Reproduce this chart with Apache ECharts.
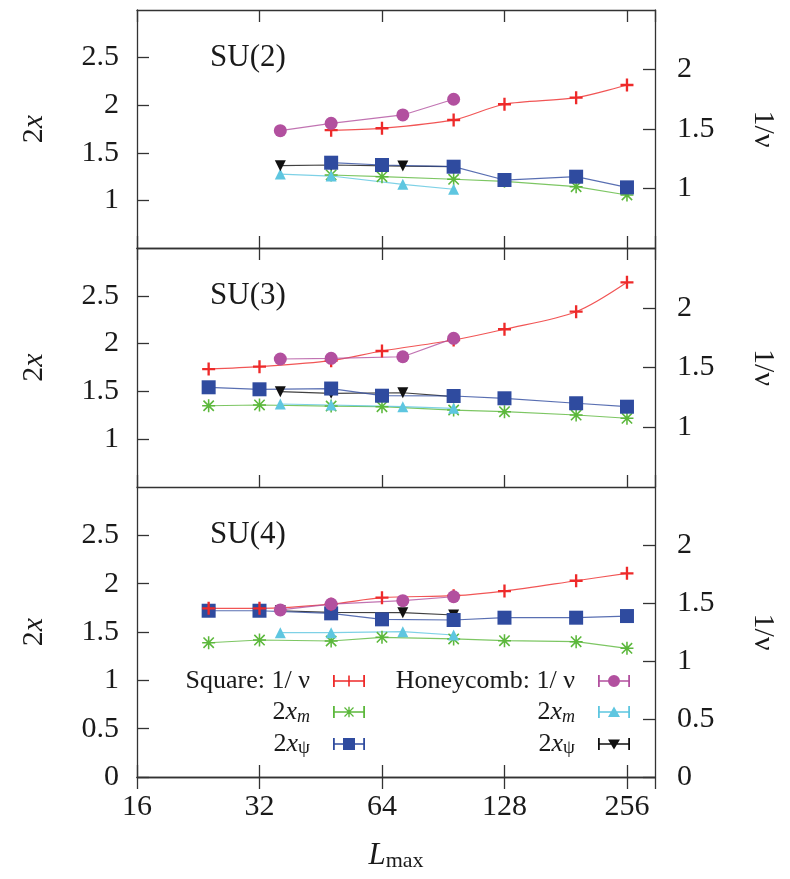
<!DOCTYPE html>
<html>
<head>
<meta charset="utf-8">
<script src="https://cdn.jsdelivr.net/npm/echarts@6/dist/echarts.min.js"></script>
<style>
  html, body { margin: 0; padding: 0; background: #fff; }
  #chart { width: 790px; height: 879px; }
</style>
</head>
<body>
<div id="chart"></div>
<script>
// System sizes L_max used for the two lattices
const L_SQUARE = [24, 32, 48, 64, 96, 128, 192, 256];
const L_SQUARE_SU2 = [48, 64, 96, 128, 192, 256];
const L_HONEY = [36, 48, 72, 96];

// SU(2)
const su2SquareNu   = [1.490, 1.506, 1.576, 1.708, 1.763, 1.870];
const su2SquareXm   = [1.267, 1.249, 1.222, 1.200, 1.144, 1.057];
const su2SquareXpsi = [1.396, 1.372, 1.354, 1.214, 1.249, 1.137];
const su2HoneyNu    = [1.486, 1.548, 1.618, 1.750];
const su2HoneyXm    = [1.277, 1.256, 1.169, 1.117];
const su2HoneyXpsi  = [1.365, 1.372, 1.361, 1.354];

// SU(3)
const su3SquareNu   = [1.487, 1.507, 1.557, 1.638, 1.730, 1.820, 1.967, 2.213];
const su3SquareXm   = [1.350, 1.358, 1.347, 1.340, 1.305, 1.288, 1.253, 1.219];
const su3SquareXpsi = [1.543, 1.522, 1.530, 1.455, 1.452, 1.428, 1.376, 1.340];
const su3HoneyNu    = [1.571, 1.577, 1.590, 1.744];
const su3HoneyXm    = [1.368, 1.358, 1.340, 1.323];
const su3HoneyXpsi  = [1.497, 1.480, 1.486, 1.445];

// SU(4)
const su4SquareNu   = [1.454, 1.454, 1.490, 1.546, 1.563, 1.603, 1.692, 1.756];
const su4SquareXm   = [1.389, 1.417, 1.407, 1.445, 1.428, 1.410, 1.400, 1.331];
const su4SquareXpsi = [1.720, 1.720, 1.693, 1.631, 1.624, 1.648, 1.648, 1.665];
const su4HoneyNu    = [1.440, 1.491, 1.520, 1.554];
const su4HoneyXm    = [1.493, 1.493, 1.503, 1.469];
const su4HoneyXpsi  = [1.720, 1.703, 1.700, 1.676];

const PANEL_LABELS = ['SU(2)', 'SU(3)', 'SU(4)'];
const X_TICKS = [16, 32, 64, 128, 256];

const FONT = '"Liberation Serif", "DejaVu Serif", serif';
const INK = '#1a1a1a';
const FRAME = '#333333';

// marker shapes
const PLUS = 'path://M8.2,0H11.8V8.2H20V11.8H11.8V20H8.2V11.8H0V8.2H8.2Z';
const STAR = 'path://M8.8,0H11.2V8.8H20V11.2H11.2V20H8.8V11.2H0V8.8H8.8Z' +
             'M1.2,2.9L2.9,1.2L18.8,17.1L17.1,18.8Z' +
             'M17.1,1.2L18.8,2.9L2.9,18.8L1.2,17.1Z';

// legend samples: error bar with caps and the point marker in the middle
const BAR = 'M0,0H1.8V5.3H30.2V0H32V12H30.2V6.7H1.8V12H0Z';
const ICON_PLUS = 'path://M0,0H1.8V5.2H15.2V0.5H16.8V5.2H30.2V0H32V12H30.2V6.8H16.8V11.5H15.2V6.8H1.8V12H0Z';
const ICON_STAR = 'path://' + BAR + 'M15.3,0.8H16.7V5.3H21.2V6.7H16.7V11.2H15.3V6.7H10.8V5.3H15.3Z' +
                  'M11.08,1.92L11.92,1.08L20.92,10.08L20.08,10.92Z' +
                  'M20.08,1.08L20.92,1.92L11.92,10.92L11.08,10.08Z';
const ICON_SQUARE = 'path://' + BAR + 'M10,0H22V12H10Z';
const ICON_CIRCLE = 'path://' + BAR + 'M10,6A6,6 0 1 1 22,6A6,6 0 1 1 10,6Z';
const ICON_TRI = 'path://' + BAR + 'M16,0.5L22,11H10Z';
const ICON_ITRI = 'path://' + BAR + 'M10,1.5H22L16,11.5Z';

const STYLES = {
  'Square: 1/ν':    { color: '#ee2a2a', symbol: PLUS, size: 13, rotate: 0, side: 'right', smooth: 0.3, icon: ICON_PLUS,
                      label: '{r|Square: 1/ ν}{g|}' },
  'Square: 2x_m':   { color: '#5cb83c', symbol: STAR, size: 13, rotate: 0, side: 'left', smooth: false, icon: ICON_STAR,
                      label: '{r|2}{i|x}{s|m}{g|}' },
  'Square: 2x_ψ':   { color: '#2f4b9f', symbol: 'rect', size: 14, rotate: 0, side: 'left', smooth: false, icon: ICON_SQUARE,
                      label: '{r|2}{i|x}{u|ψ}{g|}' },
  'Honeycomb: 1/ν': { color: '#b2509f', symbol: 'circle', size: 13, rotate: 0, side: 'right', smooth: false, icon: ICON_CIRCLE,
                      label: '{r|Honeycomb: 1/ ν}{g|}' },
  'Honeycomb: 2x_m':{ color: '#5ec6e0', symbol: 'triangle', size: 11, rotate: 0, side: 'left', smooth: false, icon: ICON_TRI,
                      label: '{r|2}{i|x}{s|m}{g|}' },
  'Honeycomb: 2x_ψ':{ color: '#111111', symbol: 'triangle', size: 11, rotate: 180, side: 'left', smooth: false, icon: ICON_ITRI,
                      label: '{r|2}{i|x}{u|ψ}{g|}' }
};

const PANEL_DATA = [
  [['Square: 2x_m', L_SQUARE_SU2, su2SquareXm], ['Honeycomb: 2x_m', L_HONEY, su2HoneyXm],
   ['Honeycomb: 2x_ψ', L_HONEY, su2HoneyXpsi], ['Square: 2x_ψ', L_SQUARE_SU2, su2SquareXpsi],
   ['Square: 1/ν', L_SQUARE_SU2, su2SquareNu], ['Honeycomb: 1/ν', L_HONEY, su2HoneyNu]],
  [['Square: 2x_m', L_SQUARE, su3SquareXm], ['Honeycomb: 2x_m', L_HONEY, su3HoneyXm],
   ['Honeycomb: 2x_ψ', L_HONEY, su3HoneyXpsi], ['Square: 2x_ψ', L_SQUARE, su3SquareXpsi],
   ['Square: 1/ν', L_SQUARE, su3SquareNu], ['Honeycomb: 1/ν', L_HONEY, su3HoneyNu]],
  [['Square: 2x_m', L_SQUARE, su4SquareXm], ['Honeycomb: 2x_m', L_HONEY, su4HoneyXm],
   ['Honeycomb: 2x_ψ', L_HONEY, su4HoneyXpsi], ['Square: 2x_ψ', L_SQUARE, su4SquareXpsi],
   ['Square: 1/ν', L_SQUARE, su4SquareNu], ['Honeycomb: 1/ν', L_HONEY, su4HoneyNu]]
];

// panel frames (pixels)
const GRIDS = [
  { top: 10, height: 238 },
  { top: 248, height: 239 },
  { top: 487, height: 290 }
];
const LEFT_RANGE  = [[0.5, 3], [0.5, 3], [0, 3]];
const RIGHT_RANGE = [[0.5, 2.5], [0.5, 2.5], [0, 2.5]];

const tickLabelStyle = { fontFamily: FONT, fontSize: 30, color: INK };
const richText = {
  r: { fontFamily: FONT, fontSize: 26, lineHeight: 28, color: INK },
  i: { fontFamily: FONT, fontSize: 26, lineHeight: 28, fontStyle: 'italic', color: INK },
  s: { fontFamily: FONT, fontSize: 18, lineHeight: 12, fontStyle: 'italic', verticalAlign: 'bottom', color: INK },
  u: { fontFamily: FONT, fontSize: 19, lineHeight: 13, verticalAlign: 'bottom', color: INK },
  g: { width: 18, lineHeight: 28 }
};

const grid = GRIDS.map(g => ({ left: 137, width: 518, top: g.top, height: g.height, outerBoundsMode: 'none' }));

const xAxis = [];
for (let p = 0; p < 3; p++) {
  xAxis.push({
    type: 'log', logBase: 2, min: 16, max: 300, gridIndex: p, position: 'bottom',
    axisLine: { lineStyle: { color: FRAME, width: 1.3 } },
    axisTick: { inside: true, length: 12, lineStyle: { color: FRAME, width: 1.3 } },
    axisLabel: {
      show: p === 2, showMaxLabel: false, margin: 15, ...tickLabelStyle,
      formatter: v => (X_TICKS.includes(Math.round(v)) ? String(Math.round(v)) : '')
    },
    splitLine: { show: false },
    name: p === 2 ? '{i|L}{s|max}' : '',
    nameLocation: 'middle', nameGap: 63,
    nameTextStyle: {
      rich: {
        i: { fontFamily: FONT, fontSize: 31, fontStyle: 'italic', lineHeight: 32, color: INK },
        s: { fontFamily: FONT, fontSize: 22, lineHeight: 16, verticalAlign: 'bottom', color: INK }
      }
    }
  });
}
for (let p = 0; p < 3; p++) {
  xAxis.push({
    type: 'log', logBase: 2, min: 16, max: 300, gridIndex: p, position: 'top',
    axisLine: { lineStyle: { color: FRAME, width: 1.3 } },
    axisTick: { inside: true, length: 12, lineStyle: { color: FRAME, width: 1.3 } },
    axisLabel: { show: false },
    splitLine: { show: false }
  });
}

const yAxis = [];
for (let p = 0; p < 3; p++) {
  yAxis.push({
    type: 'value', gridIndex: p, position: 'left',
    min: LEFT_RANGE[p][0], max: LEFT_RANGE[p][1], interval: 0.5,
    axisLine: { show: true, lineStyle: { color: FRAME, width: 1.3 } },
    axisTick: { show: true, inside: true, length: 12, lineStyle: { color: FRAME, width: 1.3 } },
    axisLabel: { margin: 18, showMinLabel: p === 2, showMaxLabel: false, ...tickLabelStyle },
    splitLine: { show: false },
    name: '{r|2}{i|x}', nameLocation: 'middle', nameGap: 88, nameRotate: 90,
    nameTextStyle: {
      rich: {
        r: { fontFamily: FONT, fontSize: 30, color: INK },
        i: { fontFamily: FONT, fontSize: 30, fontStyle: 'italic', color: INK }
      }
    }
  });
}
for (let p = 0; p < 3; p++) {
  yAxis.push({
    type: 'value', gridIndex: p, position: 'right',
    min: RIGHT_RANGE[p][0], max: RIGHT_RANGE[p][1], interval: 0.5,
    axisLine: { show: true, lineStyle: { color: FRAME, width: 1.3 } },
    axisTick: { show: true, inside: true, length: 12, lineStyle: { color: FRAME, width: 1.3 } },
    axisLabel: { margin: 22, showMinLabel: p === 2, showMaxLabel: false, ...tickLabelStyle },
    splitLine: { show: false },
    name: '1/ν', nameLocation: 'middle', nameGap: 93, nameRotate: -90,
    nameTextStyle: { fontFamily: FONT, fontSize: 30, color: INK }
  });
}

const series = [];
PANEL_DATA.forEach((panel, p) => {
  panel.forEach(([name, xs, ys]) => {
    const st = STYLES[name];
    series.push({
      type: 'line', name: name,
      xAxisIndex: p, yAxisIndex: st.side === 'left' ? p : p + 3,
      data: xs.map((x, i) => [x, ys[i]]),
      symbol: st.symbol, symbolSize: st.size, symbolRotate: st.rotate, symbolKeepAspect: true,
      smooth: st.smooth,
      showAllSymbol: true,
      itemStyle: { color: st.color, opacity: 1 },
      lineStyle: { color: st.color, width: 1.2, opacity: 0.8 },
      emphasis: { disabled: true },
      animation: false
    });
  });
});

function legendFor(names, right) {
  return {
    orient: 'vertical', align: 'right', right: right, top: 668, padding: 0,
    itemWidth: 32, itemHeight: 12, itemGap: 5, symbolKeepAspect: false,
    selectedMode: false,
    data: names.map(n => ({ name: n, icon: STYLES[n].icon })),
    formatter: n => STYLES[n].label,
    textStyle: { fontFamily: FONT, fontSize: 26, color: INK, rich: richText }
  };
}

const option = {
  backgroundColor: '#ffffff',
  animation: false,
  grid: grid,
  xAxis: xAxis,
  yAxis: yAxis,
  series: series,
  legend: [
    legendFor(['Square: 1/ν', 'Square: 2x_m', 'Square: 2x_ψ'], 425),
    legendFor(['Honeycomb: 1/ν', 'Honeycomb: 2x_m', 'Honeycomb: 2x_ψ'], 160)
  ],
  graphic: PANEL_LABELS.map((t, p) => ({
    type: 'text', x: 210, y: GRIDS[p].top + 48, silent: true,
    style: { text: t, font: '31px ' + FONT, fill: INK, verticalAlign: 'middle' }
  }))
};

const chart = echarts.init(document.getElementById('chart'), null, { renderer: 'canvas' });
chart.setOption(option);
</script>
</body>
</html>
